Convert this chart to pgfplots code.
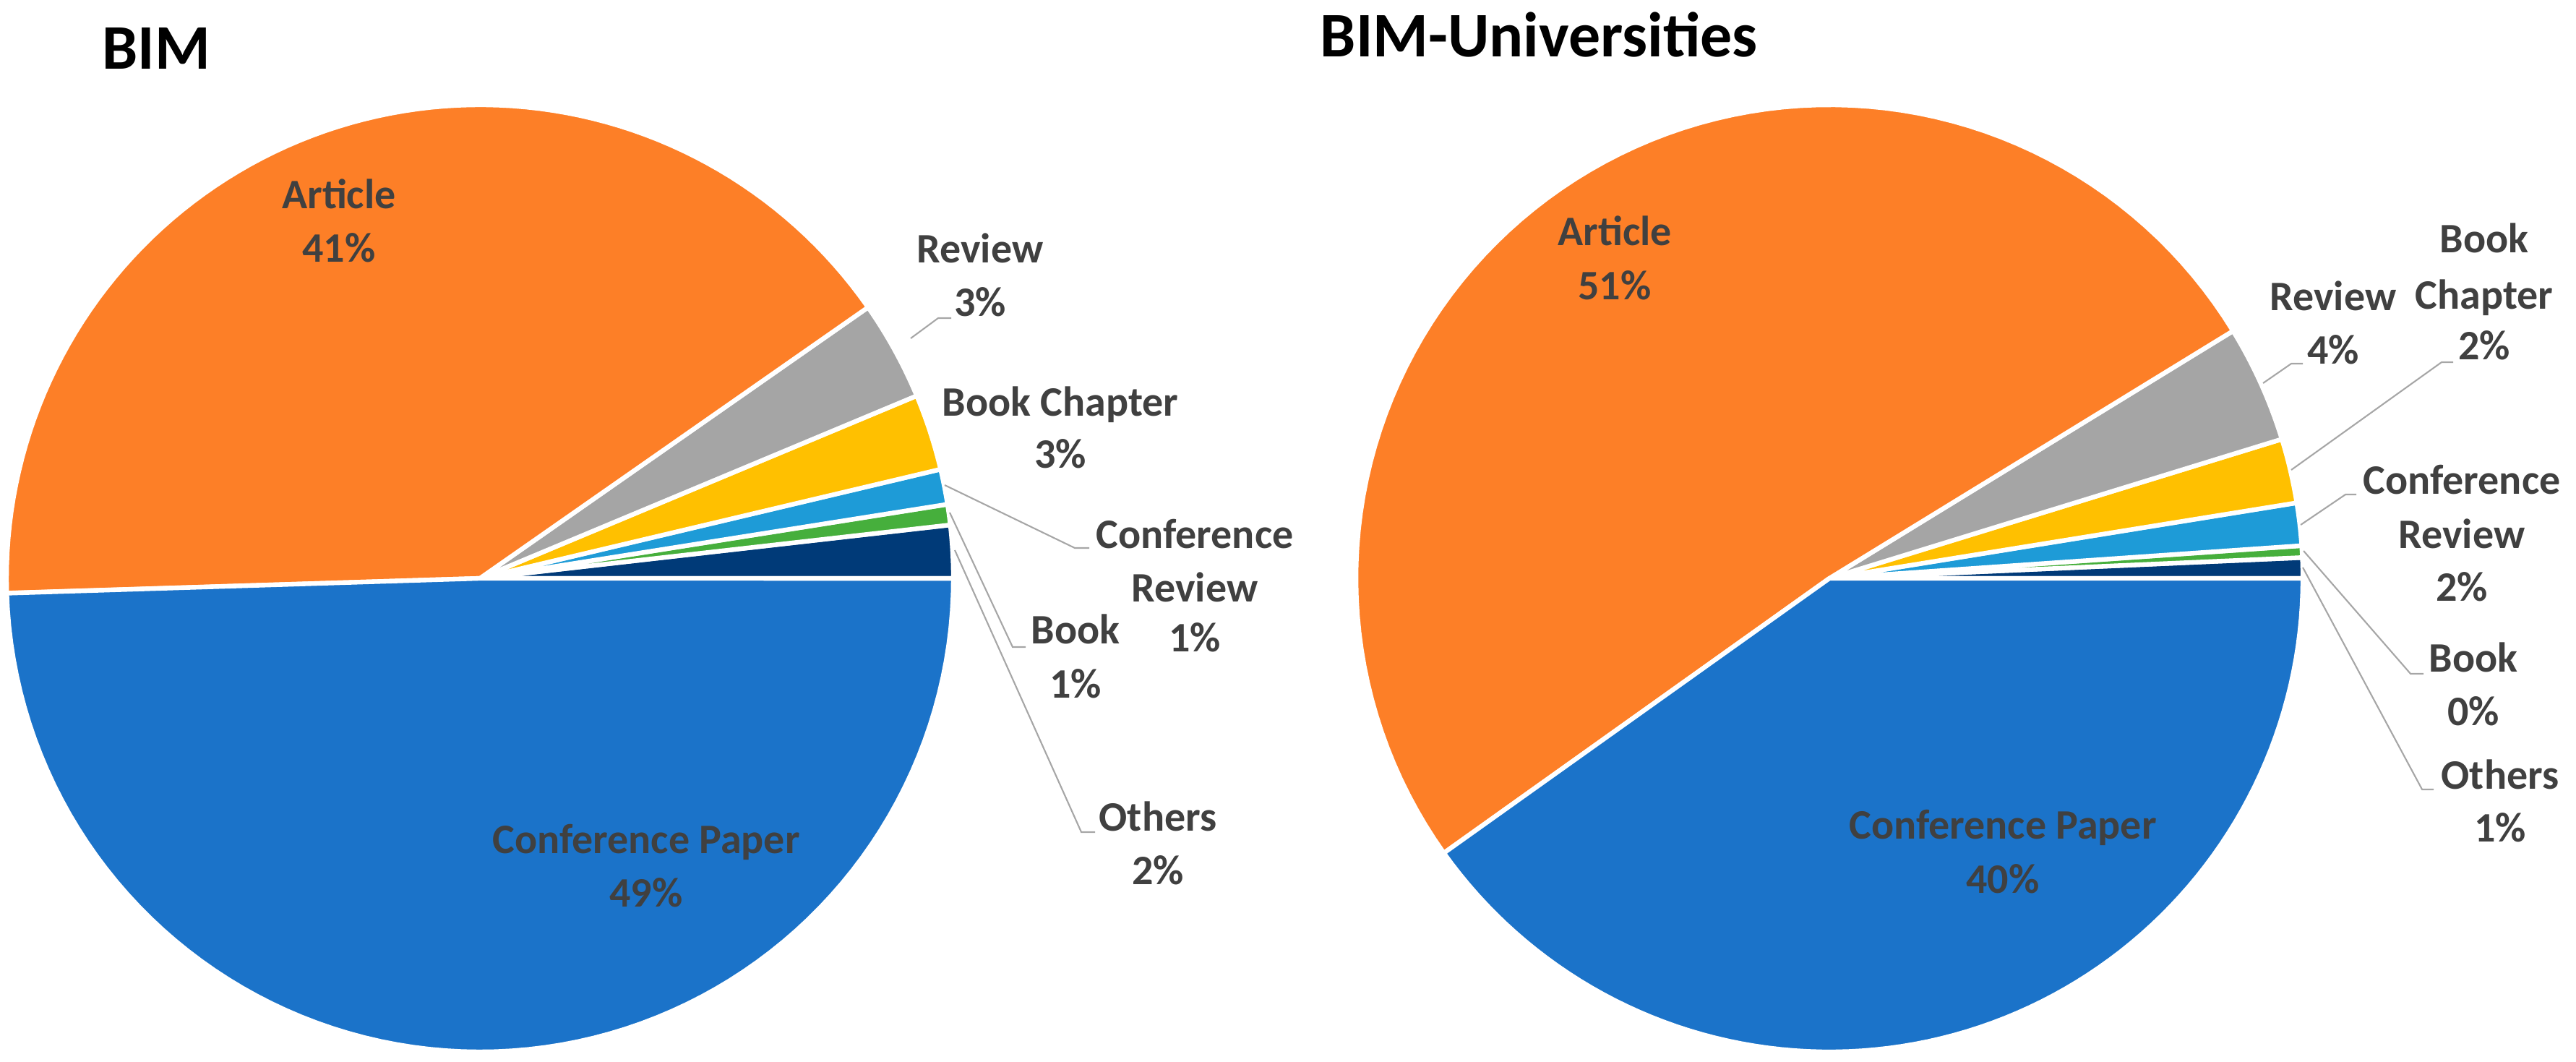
\documentclass[border=0pt]{standalone}
\usepackage{pgfplots}
\pgfplotsset{compat=1.18}
\usepackage{fontspec}
\setmainfont{Carlito}
\definecolor{cpaper}{RGB}{27,115,201}
\definecolor{carticle}{RGB}{253,127,39}
\definecolor{creview}{RGB}{165,165,165}
\definecolor{cbookch}{RGB}{255,192,0}
\definecolor{cconfrev}{RGB}{30,155,215}
\definecolor{cbook}{RGB}{70,175,60}
\definecolor{cothers}{RGB}{0,58,120}
\definecolor{txt}{RGB}{64,64,64}
\definecolor{leader}{RGB}{166,166,166}
% slice: start share (%), end share (%), colour
\newcommand\slice[3]{\addplot[fill=#3, draw=white, line width=1.8pt, line join=round, data cs=polar, domain={3.6*#1}:{3.6*#2}, samples=90, variable=\t] ({\t},{655}) -- (axis cs:0,0) -- cycle;}
\newcommand\lbl[3]{\node[anchor=base, inner sep=0pt, text=txt, font=\fontsize{16.5}{20}\selectfont\bfseries] at (axis cs:#1,#2) {#3};}
\newcommand\lead[6]{\draw[leader, line width=0.6pt] (axis cs:#1,#2) -- (axis cs:#3,#4) -- (axis cs:#5,#6);}
\pgfplotsset{pieaxis/.style={at={(0,0)}, anchor=south west, scale only axis, width=356.4mm, height=146.8mm, ymin=-668, ymax=800, hide axis, clip=false}}
\begin{document}
\begin{tikzpicture}
\path[use as bounding box] (0,0) rectangle (356.4mm,146.8mm);
% ---------------- BIM ----------------
\begin{axis}[pieaxis, xmin=-664, xmax=2900]
% shares: Others 1.8, Book 0.7, Conf. Review 1.2, Book Chapter 2.6, Review 3.4, Article 40.8, Conf. Paper 49.5
\slice{0}{1.8}{cothers}
\slice{1.8}{2.5}{cbook}
\slice{2.5}{3.7}{cconfrev}
\slice{3.7}{6.3}{cbookch}
\slice{6.3}{9.7}{creview}
\slice{9.7}{50.5}{carticle}
\slice{50.5}{100}{cpaper}
\lead{596}{332}{634}{360}{652}{360}
\lead{643}{129}{823}{42}{843}{42}
\lead{650}{91}{737}{-95}{755}{-95}
\lead{657}{39}{832}{-351}{851}{-351}
\lbl{-195}{511}{Article}
\lbl{-195}{437}{41\%}
\lbl{230}{-380}{Conference Paper}
\lbl{230}{-454}{49\%}
\lbl{692}{436}{Review}
\lbl{692}{362}{3\%}
\lbl{803}{224}{Book Chapter}
\lbl{803}{152}{3\%}
\lbl{989}{41}{Conference}
\lbl{989}{-33}{Review}
\lbl{989}{-102}{1\%}
\lbl{824}{-91}{Book}
\lbl{824}{-165}{1\%}
\lbl{938}{-349}{Others}
\lbl{938}{-423}{2\%}
\node[anchor=base west, inner sep=0pt, font=\fontsize{25}{30}\selectfont\bfseries] at (axis cs:-523,704) {BIM};
\end{axis}
% ---------------- BIM-Universities ----------------
\begin{axis}[pieaxis, xmin=-2531, xmax=1033]
% shares: Others 0.7, Book 0.4, Conf. Review 1.45, Book Chapter 2.2, Review 4.0, Article 51.1, Conf. Paper 40.15
\slice{0}{0.7}{cothers}
\slice{0.7}{1.1}{cbook}
\slice{1.1}{2.55}{cconfrev}
\slice{2.55}{4.75}{cbookch}
\slice{4.75}{8.75}{creview}
\slice{8.75}{59.85}{carticle}
\slice{59.85}{100}{cpaper}
\lead{600}{270}{639}{297}{655}{297}
\lead{639}{150}{847}{299}{863}{299}
\lead{652}{74}{714}{116}{729}{116}
\lead{656}{38}{804}{-132}{822}{-132}
\lead{655}{15}{820}{-292}{836}{-292}
\lbl{-297}{460}{Article}
\lbl{-297}{385}{51\%}
\lbl{240}{-360}{Conference Paper}
\lbl{240}{-435}{40\%}
\lbl{697}{370}{Review}
\lbl{697}{296}{4\%}
\lbl{906}{450}{Book}
\lbl{906}{372}{Chapter}
\lbl{906}{302}{2\%}
\lbl{875}{116}{Conference}
\lbl{875}{41}{Review}
\lbl{875}{-32}{2\%}
\lbl{891}{-130}{Book}
\lbl{891}{-203}{0\%}
\lbl{928}{-291}{Others}
\lbl{928}{-364}{1\%}
\node[anchor=base west, inner sep=0pt, font=\fontsize{25}{30}\selectfont\bfseries] at (axis cs:-705,721) {BIM-Universities};
\end{axis}
\end{tikzpicture}
\end{document}
